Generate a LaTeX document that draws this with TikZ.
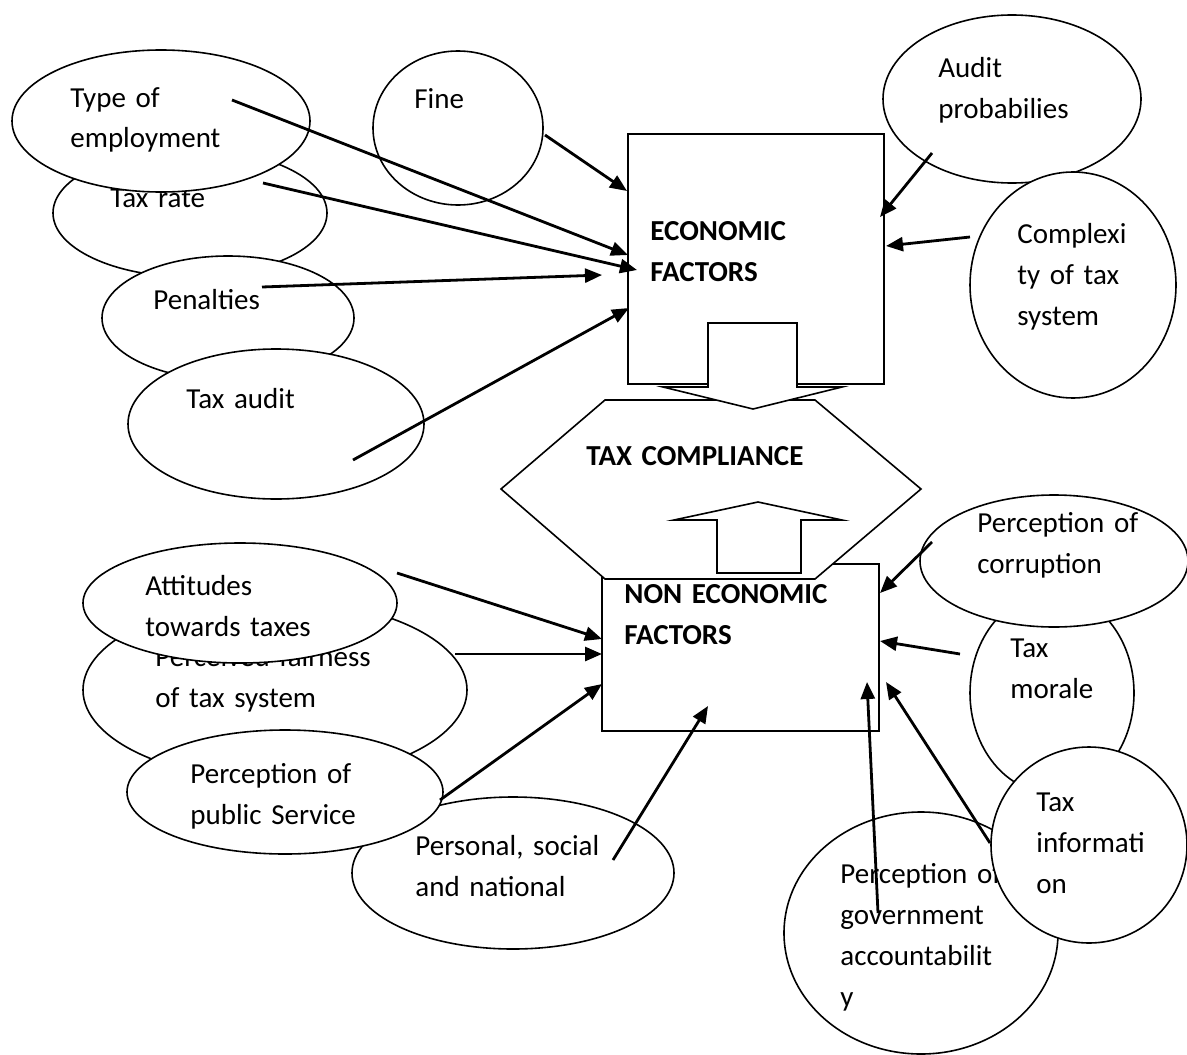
\documentclass[tikz,border=0pt]{standalone}
\usepackage{fontspec}
\setmainfont[WordSpace=0.8]{Carlito}
\usetikzlibrary{shapes.geometric,arrows.meta}
\newcommand\lblfont{\fontsize{14.5}{20.5}\selectfont}
\tikzset{
  ell/.style={draw, ellipse, fill=white, line width=0.8pt, inner sep=0pt},
  lbl/.style={anchor=base west, inner sep=0pt, text width=200pt, align=left, font=\lblfont},
  blbl/.style={lbl, font=\lblfont\bfseries},
  shp/.style={draw, fill=white, line width=0.8pt, line join=miter},
  arr/.style={-{Triangle[length=8.5pt,width=7pt]}, line width=1.4pt, shorten >=0pt},
}
\begin{document}
\begin{tikzpicture}[x=0.5pt,y=-0.5pt]
\useasboundingbox (0,0) rectangle (1187,1054);

% ---------- economic side ellipses ----------
\node[ell, minimum width=137pt, minimum height=64pt] (taxrate) at (190,213) {};
\node[lbl] (taxratet) at (110,207) {Tax rate};
\node[ell, minimum width=149pt, minimum height=71pt] (typeemp) at (161,121) {};
\node[lbl] (typeempt) at (70,107) {Type of\\employment};
\node[ell, minimum width=126pt, minimum height=62pt] (penal) at (228,318) {};
\node[lbl] (penalt) at (153,309) {Penalties};
\node[ell, minimum width=148pt, minimum height=75pt] (taxaudit) at (276,424) {};
\node[lbl] (taxauditt) at (186,408) {Tax audit};
\node[ell, minimum width=85pt, minimum height=77pt] (fine) at (458,128) {};
\node[lbl] (finet) at (414,109) {Fine};
\node[ell, minimum width=129pt, minimum height=84pt] (audit) at (1012,99) {};
\node[lbl] (auditt) at (938,78) {Audit\\probabilies};
\node[ell, minimum width=103pt, minimum height=113pt] (complex) at (1073,285) {};
\node[lbl] (complext) at (1017,243) {Complexi\\ty of tax\\system};

% ---------- non economic side ellipses ----------
\node[ell, minimum width=192pt, minimum height=90pt] (fair) at (275,690) {};
\node[lbl] (fairt) at (155,666) {Perceived fairness\\of tax system};
\node[ell, minimum width=157pt, minimum height=60pt] (attit) at (240,603) {};
\node[lbl] (attitt) at (145,595) {Attitudes\\towards taxes};
\node[ell, minimum width=161pt, minimum height=76pt] (personal) at (513,873) {};
\node[lbl] (personalt) at (415,855) {Personal, social\\and national};
\node[ell, minimum width=158pt, minimum height=62pt] (public) at (285,792) {};
\node[lbl] (publict) at (190,783) {Perception of\\public Service};
\node[ell, minimum width=82pt, minimum height=100pt] (morale) at (1052,693) {};
\node[lbl] (moralet) at (1010,657) {Tax\\morale};
\node[ell, minimum width=134pt, minimum height=66pt] (corrupt) at (1054,561) {};
\node[lbl] (corruptt) at (977,532) {Perception of\\corruption};
\node[ell, minimum width=137pt, minimum height=121pt] (gov) at (921,933) {};
\node[lbl] (govt) at (840,883) {Perception of\\government\\accountabilit\\y};
\node[ell, minimum width=98pt, minimum height=98pt] (taxinfo) at (1089,845) {};
\node[lbl] (taxinfot) at (1036,811) {Tax\\informati\\on};

% ---------- central boxes ----------
\node[shp, minimum width=128pt, minimum height=125pt, inner sep=0pt] (econ) at (756,259) {};
\node[blbl] (econt) at (650,240) {ECONOMIC\\FACTORS};
\node[shp, minimum width=138.5pt, minimum height=83.5pt, inner sep=0pt] (nonecon) at (740.5,647.5) {};
% hexagon
\draw[shp] (605,400) -- (815,400) -- (921,489) -- (815,579) -- (605,579) -- (501,489) -- cycle;
% down block arrow
\draw[shp] (708,323) -- (797,323) -- (797,387) -- (842,387) -- (753,409) -- (663,387) -- (708,387) -- cycle;
% up block arrow
\draw[shp] (717,573) -- (801,573) -- (801,520) -- (842,520) -- (758,502) -- (674,520) -- (717,520) -- cycle;
\node[blbl] (tct) at (586,465) {TAX COMPLIANCE};
\node[blbl] (nonecont) at (624,603) {NON ECONOMIC\\FACTORS};

% ---------- arrow end points ----------
\coordinate (s1) at (232,100);  \coordinate (e1) at (628,255);
\coordinate (s2) at (263,183);  \coordinate (e2) at (637,270);
\coordinate (s3) at (545,135);  \coordinate (e3) at (627,191);
\coordinate (s4) at (262,287);  \coordinate (e4) at (602,275);
\coordinate (s5) at (353,460);  \coordinate (e5) at (629,308);
\coordinate (s6) at (932,153);  \coordinate (e6) at (880,217);
\coordinate (s7) at (970,237);  \coordinate (e7) at (886,246);
\coordinate (s8) at (397,573);  \coordinate (e8) at (602,639);
\coordinate (s9) at (455,654);  \coordinate (e9) at (602,654);
\coordinate (s10) at (440,800); \coordinate (e10) at (602,684);
\coordinate (s11) at (613,860); \coordinate (e11) at (708,706);
\coordinate (s12) at (932,542); \coordinate (e12) at (880,593);
\coordinate (s13) at (960,654); \coordinate (e13) at (880,641);
\coordinate (s14) at (878,913); \coordinate (e14) at (867,682);
\coordinate (s15) at (990,843); \coordinate (e15) at (886,682);

\foreach \i in {1,...,15} { \draw[arr] (s\i) -- (e\i); }
\end{tikzpicture}
\end{document}
